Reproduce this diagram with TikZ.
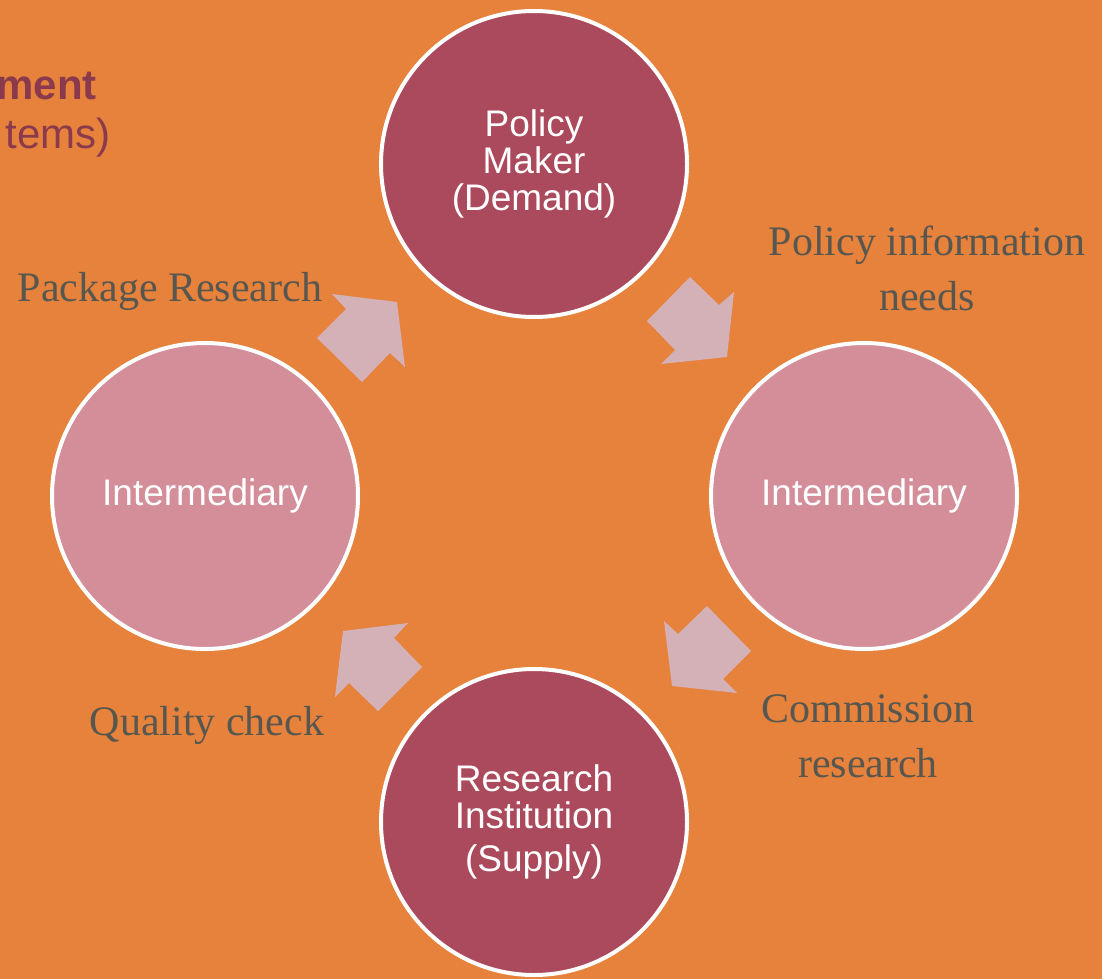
\documentclass[tikz,border=0pt]{standalone}
\usepackage{fontspec}
\setmainfont{Liberation Serif}
\setsansfont{Liberation Sans}
\definecolor{slide}{HTML}{E6823C}
\definecolor{darkrose}{HTML}{AB4A5C}
\definecolor{lightrose}{HTML}{D38E9A}
\definecolor{arrowpink}{HTML}{D4B1B7}
\definecolor{labelgrey}{HTML}{58574F}
\definecolor{titlered}{HTML}{8A3A4C}
\tikzset{
  actor/.style={circle, draw=white, line width=4pt, minimum size=306pt, inner sep=0pt,
    text=white, align=center, font=\sffamily\fontsize{37}{37}\selectfont},
  flowlabel/.style={text=labelgrey, align=center, font=\fontsize{42}{55}\selectfont, inner sep=0pt},
}
\begin{document}
\begin{tikzpicture}[x=1pt, y=-1pt]
	    \useasboundingbox (0,0) rectangle (1102,979);
	    \fill[slide] (0,0) rectangle (1102,979);
	    % cut-off title at the top left
	    \node[anchor=base east, inner sep=0pt, text=titlered, font=\sffamily\bfseries\fontsize{42}{50}\selectfont] (title) at (97,100) {ment};
	    \node[anchor=base east, inner sep=0pt, text=titlered, font=\sffamily\fontsize{42}{50}\selectfont] (subtitle) at (111,148) {tems)};
	    % the four actors
	    \node[actor, fill=darkrose] (policy) at (534,164) {Policy\\Maker\\(Demand)};
	    \node[actor, fill=lightrose] (midright) at (864,496) {Intermediary};
	    \node[actor, fill=lightrose] (midleft) at (205,496) {Intermediary};
	    \node[actor, fill=darkrose] (institute) at (534,822) {Research\\Institution\\[6pt](Supply)};
	    % block arrows
	    \fill[arrowpink] (690,277) -- (719,305) -- (734,292) -- (727,357) -- (661,364) -- (675,350) -- (647,321) -- cycle;
	    \fill[arrowpink] (707,606) -- (751,651) -- (723,679) -- (737,693) -- (672,686) -- (664,621) -- (678,634) -- cycle;
	    \fill[arrowpink] (408,623) -- (394,638) -- (422,667) -- (378,711) -- (349,683) -- (335,697) -- (343,631) -- cycle;
	    \fill[arrowpink] (332,294) -- (397,302) -- (405,367) -- (390,353) -- (362,382) -- (317,338) -- (346,309) -- cycle;
	    % labels
	    \node[flowlabel, anchor=base] (needs) at (927,310) {Policy information\\needs};
	    \node[flowlabel, anchor=base] (commission) at (868,777) {Commission\\research};
	    \node[flowlabel, anchor=base] (quality) at (207,735) {Quality check};
	    \node[flowlabel, anchor=base] (package) at (170,301) {Package Research};
	\end{tikzpicture}
\end{document}
